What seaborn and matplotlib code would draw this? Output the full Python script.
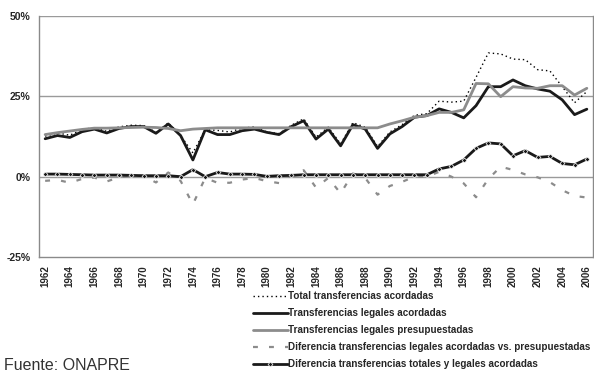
import numpy as np
import matplotlib
matplotlib.use('Agg')
import matplotlib.pyplot as plt
import seaborn as sns

years = list(range(1962, 2007))

total_acordadas = [12.6, 13.6, 12.9, 14.6, 15.3, 14.1, 15.5, 16.0, 15.9, 13.8,
                   16.7, 12.8, 7.4, 14.6, 14.4, 13.9, 15.1, 15.5, 13.9, 13.4,
                   16.0, 18.0, 12.3, 15.4, 10.2, 16.8, 15.4, 9.4, 13.9, 16.2,
                   19.1, 19.6, 23.5, 23.2, 23.5, 30.9, 38.5, 38.2, 36.6, 36.4,
                   33.3, 32.9, 28.0, 23.0, 26.5]
legales_acordadas = [11.8, 12.8, 12.2, 14.0, 14.8, 13.6, 15.0, 15.6, 15.6, 13.5,
                     16.4, 12.8, 5.2, 14.6, 13.1, 13.1, 14.3, 14.8, 13.8, 13.1,
                     15.6, 17.4, 11.7, 14.8, 9.6, 16.2, 14.8, 8.8, 13.3, 15.6,
                     18.5, 19.0, 21.1, 20.0, 18.3, 22.1, 28.0, 28.0, 30.1, 28.3,
                     27.3, 26.6, 23.9, 19.3, 21.0]
legales_presup = [13.1, 13.7, 14.2, 14.7, 15.1, 15.1, 15.2, 15.3, 15.4, 15.3,
                  15.0, 14.3, 14.8, 15.0, 15.2, 15.2, 15.2, 15.2, 15.2, 15.2,
                  15.2, 15.2, 15.2, 15.2, 15.2, 15.2, 15.2, 15.2, 16.4, 17.4,
                  18.5, 19.0, 20.0, 20.0, 20.8, 29.0, 28.9, 24.9, 28.0, 27.6,
                  27.5, 28.3, 28.3, 25.4, 27.5]
dif_legales = [-1.3, -1.0, -1.9, -0.7, -0.3, -1.5, -0.2, 0.3, 0.2, -1.8,
               1.3, -1.3, -8.6, -0.4, -1.9, -1.9, -0.9, -0.4, -1.4, -2.0,
               0.4, 2.0, -3.4, -0.4, -5.2, 1.0, -0.4, -5.6, -2.9, -1.6,
               0.0, 0.0, 1.5, 0.0, -2.1, -6.4, -0.7, 3.1, 2.1, 0.7,
               -0.2, -1.7, -4.2, -6.0, -6.5]
dif_totales = [0.8, 0.8, 0.7, 0.6, 0.5, 0.5, 0.5, 0.4, 0.3, 0.3,
               0.3, 0.0, 2.2, 0.0, 1.3, 0.8, 0.8, 0.7, 0.1, 0.3,
               0.4, 0.6, 0.6, 0.6, 0.6, 0.6, 0.6, 0.6, 0.6, 0.6,
               0.6, 0.6, 2.4, 3.2, 5.2, 8.8, 10.5, 10.2, 6.5, 8.1,
               6.0, 6.3, 4.1, 3.7, 5.5]

labels = ['Total transferencias acordadas',
          'Transferencias legales acordadas',
          'Transferencias legales presupuestadas',
          'Diferencia transferencias legales acordadas vs. presupuestadas',
          'Diferencia transferencias totales y legales acordadas']

sns.set_style('white')
plt.rcParams['font.family'] = ['Liberation Sans', 'DejaVu Sans']

fig = plt.figure(figsize=(5.94, 3.73), dpi=100)
ax = fig.add_axes([39 / 594, 1 - 257 / 373, 554 / 594, 241 / 373])

x = np.arange(len(years))
grid_c = '#9a9a9a'
for yv in [0, 25, 50]:
    ax.axhline(yv, color=grid_c, lw=1, zorder=0)

sns.lineplot(x=x, y=total_acordadas, ax=ax, color='black', lw=1,
             linestyle=(0, (1, 2.2)), label=labels[0])
sns.lineplot(x=x, y=legales_acordadas, ax=ax, color='#1a1a1a', lw=2,
             label=labels[1])
sns.lineplot(x=x, y=legales_presup, ax=ax, color='#8c8c8c', lw=2,
             label=labels[2])
sns.lineplot(x=x, y=dif_legales, ax=ax, color='#8c8c8c', lw=1.6,
             linestyle=(0, (2.2, 5)), label=labels[3])
sns.lineplot(x=x, y=dif_totales, ax=ax, color='#1a1a1a', lw=2,
             marker='D', markersize=2.5, markeredgewidth=0.5, label=labels[4])

ax.set_xlim(-0.5, len(years) - 0.5)
ax.set_ylim(-25, 50)
ax.set_yticks([-25, 0, 25, 50])
ax.set_yticklabels(['-25%', '0%', '25%', '50%'], fontsize=7.5,
                   fontweight='bold')
ax.set_xticks(x[::2])
ax.set_xticklabels([str(y) for y in years[::2]], rotation=90, fontsize=7,
                   fontweight='bold')
ax.set_xticks(np.arange(-0.5, len(years), 1), minor=True)
ax.tick_params(axis='x', which='major', length=0, pad=6)
ax.tick_params(axis='x', which='minor', length=4, width=0.8, color='#777777',
               direction='inout')
ax.tick_params(axis='y', length=4, width=0.8, color='#777777',
               direction='out', pad=2)
ax.set_ylabel('')

for side in ['left', 'bottom', 'right']:
    ax.spines[side].set_color('#8a8a8a')
    ax.spines[side].set_linewidth(1)
ax.spines['top'].set_visible(False)

ax.get_legend().remove()
handles, labs = ax.get_legend_handles_labels()
fig.legend(handles, labs, loc='upper left',
           bbox_to_anchor=(253 / 594, 1 - 291 / 373), frameon=False,
           prop={'size': 7.1, 'weight': 'bold'}, handlelength=3.5,
           handletextpad=0.1, labelspacing=0.72, borderaxespad=0,
           borderpad=0)

fig.text(0.006, 2.5 / 373, 'Fuente: ONAPRE', fontsize=11.5,
         color='#333333', va='baseline', ha='left')

fig.savefig('out.png', dpi=100)
